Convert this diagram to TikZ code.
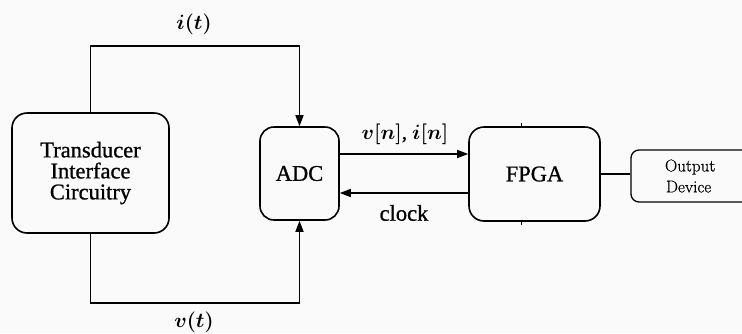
\documentclass[tikz,border=0pt]{standalone}
\usepackage{fontspec}
\usepackage{bm}
\setmainfont{Liberation Serif}[FakeBold=0.9]
\newfontfamily\cmfont{Latin Modern Roman}[FakeBold=0.5]
\usetikzlibrary{arrows.meta,positioning,calc}
\begin{document}
\begin{tikzpicture}[x=1pt,y=-1pt,
  blk/.style={draw,line width=1.6pt,rounded corners=15pt,inner sep=0pt,align=center,
     font=\fontsize{22.5}{21}\selectfont},
  wire/.style={line width=1.6pt},
  arr/.style={wire,-{Triangle[length=11pt,width=8pt]}},
  lab/.style={font=\fontsize{20.5}{22}\selectfont}]
\clip (0,0) rectangle (742,333);
\fill[black!2] (0,0) rectangle (742,333);
\useasboundingbox (0,0) rectangle (742,333);
\node[blk,minimum width=157pt,minimum height=120pt] (T) at (90.5,173) {Transducer\\Interface\\Circuitry};
\node[blk,minimum width=79pt,minimum height=93pt,rounded corners=14pt] (ADC) at (299.5,173.5) {ADC};
\node[blk,minimum width=131pt,minimum height=94pt] (FPGA) at (534.5,174) {FPGA};
\node[draw,line width=1.3pt,rounded corners=8pt,minimum width=140pt,minimum height=52pt,inner sep=0pt,
  text width=140pt,align=left,font=\cmfont\fontsize{17}{21}\selectfont] (Out) at (701,176)
  {\hspace*{34pt}Output\\\hspace*{35pt}Device};
\coordinate (h1) at (0,154);
\coordinate (h2) at (0,193);
\coordinate (tk) at (521,0);
\draw[arr] (T.north) -- ++(0,-66) -| (ADC.north);
\draw[arr] (T.south) -- ++(0,69) -| (ADC.south);
\draw[arr] (ADC.east |- h1) -- (FPGA.west |- h1);
\draw[arr] (FPGA.west |- h2) -- (ADC.east |- h2);
\draw[wire] (FPGA.east) -- (FPGA.east -| Out.west);
\draw[line width=0.7pt] (FPGA.north -| tk) -- ++(0,-3.5);
\draw[line width=0.7pt] (FPGA.south -| tk) -- ++(0,3.5);
\node[lab] (it) at (194,24) {$\bm{i(t)}$};
\node[lab] (vt) at (194,322) {$\bm{v(t)}$};
\node[lab] (vn) at (405,134) {$\bm{v[n]}$, $\bm{i[n]}$};
\node[font=\fontsize{22.5}{22}\selectfont] (clk) at (404,213) {clock};
\end{tikzpicture}
\end{document}
